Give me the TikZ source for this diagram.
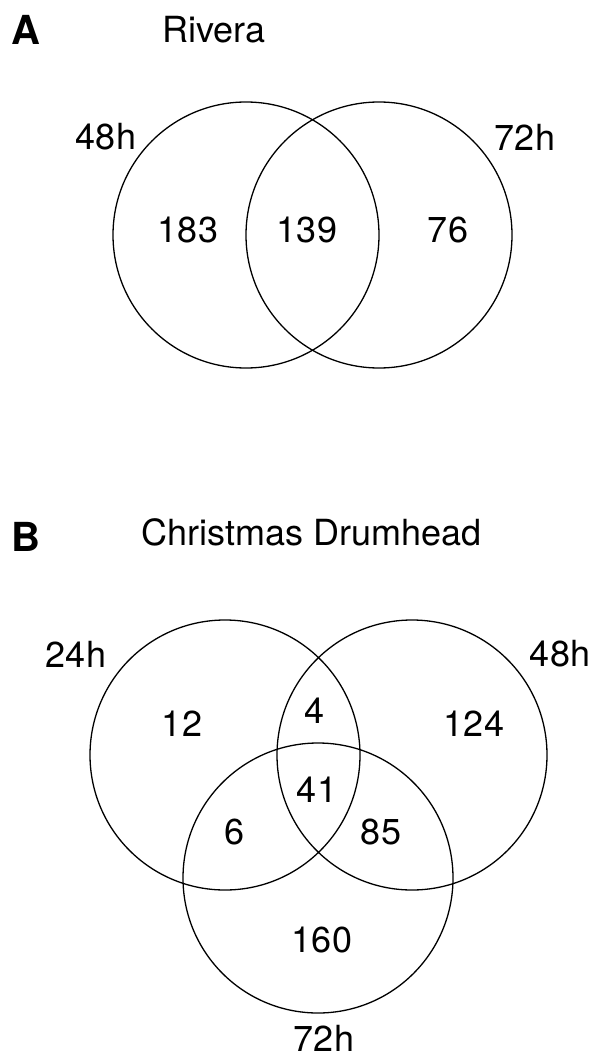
\documentclass[tikz,border=0pt]{standalone}
\usepackage{fontspec}
\setmainfont{TeX Gyre Heros}
\begin{document}
\begin{tikzpicture}[x=1pt,y=-1pt,
  venn/.style={draw=black,line width=1.3pt,circle,inner sep=0pt,outer sep=0pt},
  lbl/.style={inner sep=0pt,font=\fontsize{36}{40}\selectfont},
  panel/.style={inner sep=0pt,font=\fontsize{40}{44}\selectfont\bfseries}]
\useasboundingbox (0,0) rectangle (595,1059);
% Panel A
\node[panel] (pA) at (26,30) {A};
\node[lbl,anchor=west] (tA) at (162,30) {Rivera};
\node[venn,minimum size=266pt] (a48) at (246,235) {};
\node[venn,minimum size=266pt] (a72) at (379,235) {};
\node[lbl] (la48) at (106,137) {48h};
\node[lbl] (la72) at (525,137) {72h};
\node[lbl] (n183) at (188,230) {183};
\node[lbl] (n139) at (307,230) {139};
\node[lbl] (n76) at (448,230) {76};
% Panel B
\node[panel] (pB) at (25.5,537) {B};
\node[lbl,anchor=west] (tB) at (141,532) {Christmas Drumhead};
\node[venn,minimum size=270pt] (b24) at (225,755) {};
\node[venn,minimum size=270pt] (b48) at (412,755) {};
\node[venn,minimum size=270pt] (b72) at (318,878) {};
\node[lbl] (lb24) at (76,654) {24h};
\node[lbl] (lb48) at (560,654) {48h};
\node[lbl] (lb72) at (324,1038) {72h};
\node[lbl] (n12) at (182,724) {12};
\node[lbl] (n4) at (315,711) {4};
\node[lbl] (n124) at (474,724) {124};
\node[lbl] (n41) at (317,790) {41};
\node[lbl] (n6) at (235,832) {6};
\node[lbl] (n85) at (381,832) {85};
\node[lbl] (n160) at (322,940) {160};
\end{tikzpicture}
\end{document}
